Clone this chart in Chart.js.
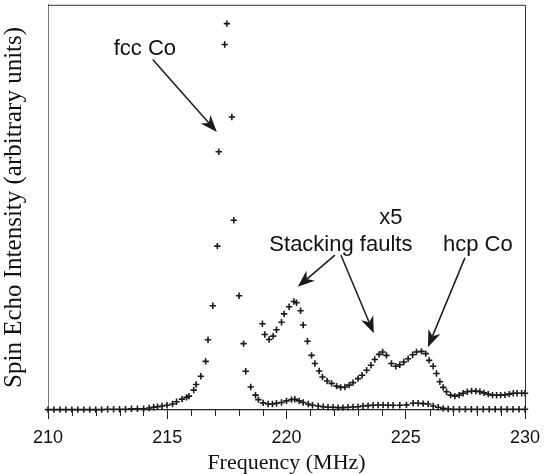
<!DOCTYPE html>
<html>
<head>
<meta charset="utf-8">
<script src="https://cdn.jsdelivr.net/npm/chart.js@4/dist/chart.umd.min.js"></script>
<style>
  html, body { margin: 0; padding: 0; background: #fff; }
  #wrap { width: 544px; height: 474px; position: relative; }
</style>
</head>
<body>
<div id="wrap"><canvas id="c" width="544" height="474"></canvas></div>
<script>
// NMR spin-echo spectrum of Co: full spectrum and the x5 magnified part
const freqMain = [
  210.00, 210.25, 210.50, 210.75, 211.00, 211.25, 211.50, 211.75, 212.00, 212.25, 212.50, 212.75,
  213.00, 213.25, 213.50, 213.75,
  214.01, 214.24, 214.43, 214.59, 214.78, 214.99, 215.22, 215.39, 215.62, 215.81, 215.91, 216.11,
  216.21, 216.41, 216.61, 216.71, 216.91, 217.10, 217.16, 217.41, 217.50, 217.71, 217.79, 218.01,
  218.20, 218.29, 218.50, 218.70, 218.82, 219.02, 219.23, 219.41, 219.58, 219.79, 220.00, 220.21,
  220.35, 220.53, 220.70, 220.91, 221.09, 221.33, 221.54, 221.74, 221.95, 222.16, 222.37, 222.58,
  222.79, 223.00, 223.21, 223.42, 223.63, 223.84, 224.05, 224.26, 224.47, 224.75, 225.03, 225.31,
  225.52, 225.73, 225.94, 226.15, 226.36, 226.57, 226.78,
  227.00, 227.25, 227.50, 227.75, 228.00, 228.25, 228.50, 228.75, 229.00, 229.25, 229.50, 229.75, 230.00
];
const intensityMain = [
  0.1, 0.1, 0.1, 0.1, 0.1, 0.1, 0.1, 0.1, 0.1, 0.1, 0.2, 0.2,
  0.2, 0.2, 0.3, 0.3,
  0.33, 0.5, 0.68, 0.83, 1.0, 1.18, 1.5, 2.08, 2.75, 3.18, 3.5, 5.0,
  6.43, 8.5, 12.25, 17.7, 26.25, 41.25, 65, 92, 97.25, 73.75, 47.75, 28.75,
  16.7, 9.75, 5.8, 3.75, 2.6, 1.8, 1.5, 1.5, 1.7, 1.9, 2.3, 2.6,
  2.7, 2.3, 1.9, 1.5, 1.2, 1.0, 0.8, 0.7, 0.7, 0.6, 0.6, 0.7,
  0.75, 0.8, 1.0, 1.1, 1.2, 1.25, 1.25, 1.2, 1.2, 1.2, 1.3, 1.7,
  1.7, 1.6, 1.5, 1.0, 0.7, 0.4, 0.25,
  0.2, 0.2, 0.2, 0.2, 0.2, 0.2, 0.2, 0.2, 0.2, 0.2, 0.2, 0.2, 0.2
];
const freqX5 = [
  218.99, 219.09, 219.27, 219.44, 219.58, 219.79, 219.90, 220.11, 220.31, 220.42, 220.59, 220.70,
  220.88, 221.05, 221.19, 221.37, 221.51, 221.70, 221.89, 222.10, 222.27, 222.45, 222.63, 222.79,
  223.00, 223.17, 223.36, 223.54, 223.70, 223.88, 224.03, 224.19, 224.40, 224.58, 224.75, 224.92,
  225.10, 225.29, 225.45, 225.66, 225.84, 225.98, 226.15, 226.29, 226.43, 226.57, 226.71, 226.88,
  227.06, 227.24, 227.41, 227.58, 227.76, 227.94, 228.11, 228.28, 228.46, 228.64, 228.81, 228.98,
  229.16, 229.34, 229.51, 229.67, 229.86, 230.00
];
const intensityX5 = [
  21.7, 19.0, 17.75, 18.6, 20.2, 22.1, 24.2, 26.0, 27.3, 27.0, 25.0, 21.4,
  17.3, 13.75, 11.7, 9.8, 8.3, 7.3, 6.7, 6.0, 5.7, 5.8, 6.25, 6.9,
  7.9, 8.75, 10.0, 11.25, 12.7, 14.0, 14.6, 13.75, 11.7, 11.0, 11.4, 12.1,
  12.9, 13.9, 14.6, 14.75, 14.2, 12.5, 11.0, 9.2, 7.1, 5.7, 4.6, 3.75,
  3.5, 3.75, 4.2, 4.6, 4.8, 4.75, 4.6, 4.3, 4.0, 3.75, 3.7, 3.75,
  3.8, 4.0, 4.2, 4.2, 4.2, 4.2
];
const xTickLabels = [210, 215, 220, 225, 230];

// Annotation labels and arrows, in data units (MHz, intensity)
const labels = [
  { text: 'fcc Co', x: 214.06, y: 91.0 },
  { text: 'x5', x: 224.38, y: 48.3 },
  { text: 'Stacking faults', x: 222.28, y: 41.5 },
  { text: 'hcp Co', x: 228.02, y: 41.5 }
];
const arrows = [
  { from: [214.39, 88.2], to: [217.08, 70.0] },
  { from: [222.03, 39.0], to: [220.47, 31.0] },
  { from: [222.28, 39.0], to: [223.66, 19.3] },
  { from: [227.48, 38.3], to: [225.93, 15.8] }
];

const toPoints = (xs, ys) => xs.map((x, i) => ({ x: x, y: ys[i] }));
const INK = '#1a1a1a';

const framePlugin = {
  id: 'frame',
  afterDraw(chart) {
    const ctx = chart.ctx;
    const a = chart.chartArea;
    const xs = chart.scales.x;
    const ys = chart.scales.y;
    ctx.save();
    // top and right edges of the plot box
    ctx.strokeStyle = '#333';
    ctx.lineWidth = 1;
    ctx.beginPath();
    ctx.moveTo(a.left, a.top + 0.5);
    ctx.lineTo(a.right + 0.5, a.top + 0.5);
    ctx.lineTo(a.right + 0.5, a.bottom);
    ctx.stroke();
    // minor ticks (every MHz)
    ctx.strokeStyle = '#222';
    ctx.lineWidth = 1;
    xs.ticks.forEach((t, i) => {
      if (t.value % 5 === 0) return;
      const px = Math.round(xs.getPixelForTick(i)) + 0.5;
      ctx.beginPath();
      ctx.moveTo(px, a.bottom);
      ctx.lineTo(px, a.bottom + 6);
      ctx.stroke();
    });
    // arrows
    ctx.strokeStyle = INK;
    ctx.fillStyle = INK;
    arrows.forEach(ar => {
      const x0 = xs.getPixelForValue(ar.from[0]), y0 = ys.getPixelForValue(ar.from[1]);
      const x1 = xs.getPixelForValue(ar.to[0]), y1 = ys.getPixelForValue(ar.to[1]);
      const ang = Math.atan2(y1 - y0, x1 - x0);
      const len = 17, half = 6.5, notch = 12;
      const ux = Math.cos(ang), uy = Math.sin(ang);
      ctx.lineWidth = 1.5;
      ctx.beginPath();
      ctx.moveTo(x0, y0);
      ctx.lineTo(x1 - ux * notch, y1 - uy * notch);
      ctx.stroke();
      ctx.beginPath();
      ctx.moveTo(x1, y1);
      ctx.lineTo(x1 - ux * len - uy * half, y1 - uy * len + ux * half);
      ctx.lineTo(x1 - ux * notch, y1 - uy * notch);
      ctx.lineTo(x1 - ux * len + uy * half, y1 - uy * len - ux * half);
      ctx.closePath();
      ctx.fill();
    });
    // labels
    ctx.font = '22px "Liberation Sans", Arial, sans-serif';
    ctx.textAlign = 'center';
    ctx.textBaseline = 'middle';
    ctx.fillStyle = '#111';
    labels.forEach(l => {
      ctx.fillText(l.text, xs.getPixelForValue(l.x), ys.getPixelForValue(l.y));
    });
    ctx.restore();
  }
};

const pointStyleOpts = {
  showLine: false,
  pointStyle: 'cross',
  pointRadius: 3.2,
  pointHoverRadius: 3.2,
  pointBorderWidth: 1.6,
  borderColor: INK,
  backgroundColor: INK,
  clip: false
};

new Chart(document.getElementById('c'), {
  type: 'scatter',
  data: {
    datasets: [
      Object.assign({ label: 'Spectrum', data: toPoints(freqMain, intensityMain) }, pointStyleOpts),
      Object.assign({ label: 'x5', data: toPoints(freqX5, intensityX5) }, pointStyleOpts)
    ]
  },
  options: {
    responsive: false,
    animation: false,
    events: [],
    layout: { padding: { top: 2, right: 19, left: 0, bottom: 0 } },
    plugins: { legend: { display: false }, tooltip: { enabled: false } },
    scales: {
      x: {
        type: 'linear',
        min: 210,
        max: 230,
        afterFit(scale) {
          scale.height = 64;
          scale.paddingLeft = 0;
          scale.paddingRight = 0;
        },
        afterBuildTicks(scale) {
          const t = [];
          for (let v = 210; v <= 230; v++) t.push({ value: v });
          scale.ticks = t;
        },
        ticks: {
          autoSkip: false,
          maxRotation: 0,
          padding: 8,
          color: '#111',
          font: { family: '"Liberation Sans", Arial, sans-serif', size: 18 },
          callback: v => (xTickLabels.includes(v) ? String(v) : '')
        },
        grid: {
          drawOnChartArea: false,
          drawTicks: true,
          tickLength: 9,
          tickWidth: 1,
          tickColor: c => (c.tick && xTickLabels.includes(c.tick.value) ? '#222' : 'rgba(0,0,0,0)')
        },
        border: { display: true, color: '#222', width: 1.3 },
        title: {
          display: true,
          text: 'Frequency (MHz)',
          color: '#111',
          padding: { top: 0, bottom: 0 },
          font: { family: '"Liberation Serif", "Times New Roman", serif', size: 22, lineHeight: 1.0 }
        }
      },
      y: {
        type: 'linear',
        min: 0,
        max: 102,
        afterFit(scale) { scale.width = 48; },
        ticks: { display: false },
        grid: { display: false, drawTicks: false },
        border: { display: true, color: '#777', width: 1 },
        title: {
          display: true,
          text: 'Spin Echo Intensity (arbitrary units)',
          color: '#111',
          padding: { top: 1.5, bottom: 0 },
          font: { family: '"Liberation Serif", "Times New Roman", serif', size: 25, lineHeight: 1.0 }
        }
      }
    }
  },
  plugins: [framePlugin]
});
</script>
</body>
</html>
